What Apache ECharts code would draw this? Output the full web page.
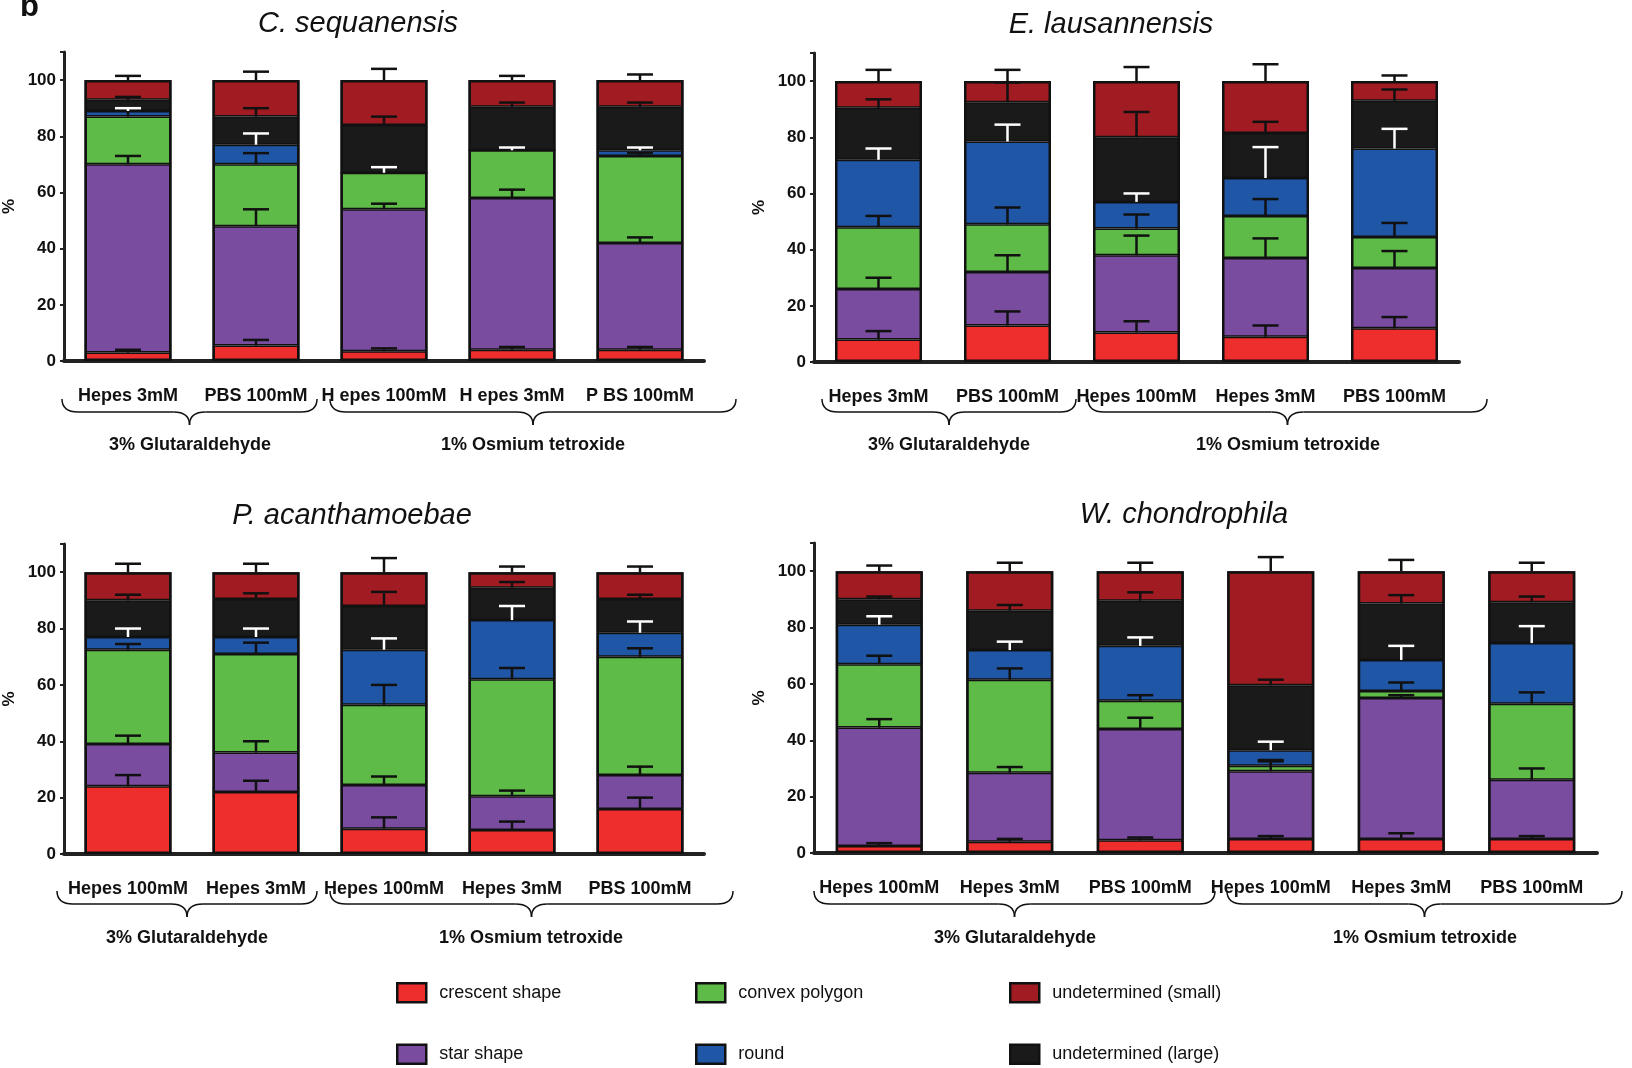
<!DOCTYPE html>
<html><head><meta charset="utf-8">
<script src="https://cdn.jsdelivr.net/npm/echarts@6/dist/echarts.min.js"></script>
<style>html,body{margin:0;background:#fff}#c{width:1632px;height:1068px}</style>
</head><body><div id="c"></div>
<script>
var segNames = ['crescent shape', 'star shape', 'convex polygon', 'round', 'undetermined (large)', 'undetermined (small)'];
var segColors = ['#ee2d2d', '#7a4ca0', '#5fbb47', '#1f56a6', '#1b1a1a', '#a11c22'];

// cumulative tops of each segment, per bar
var seqCats = ['Hepes 3mM', 'PBS 100mM', 'H epes 100mM', 'H epes 3mM', 'P BS 100mM'];
var seqTops = [[3,70,87,89,93,100],[5.5,48,70,77,87,100],[3.5,54,67,67,84,100],[4,58,75,75,90.5,100],[4,42,73,75,90.5,100]];
var seqErr  = [[1,3,3,1,1,1.5],[2,6,4,4,3,3],[1,2,2,2,3,4],[1,3,1,1,1.5,1.5],[1,2,1,1,1.5,2]];

var lauCats = ['Hepes 3mM', 'PBS 100mM', 'Hepes 100mM', 'Hepes 3mM', 'PBS 100mM'];
var lauTops = [[8,26,48,72,90.5,100],[13,32,49,78.5,92.5,100],[10.5,38,47.5,57,80,100],[9,37,52,65.5,81.5,100],[12,33.5,44.5,76,93,100]];
var lauErr  = [[3,4,4,4,3,4],[5,6,6,6,7,4],[4,7,5,3,9,5],[4,7,6,11,4,6],[4,6,5,7,4,2]];

var acaCats = ['Hepes 100mM', 'Hepes 3mM', 'Hepes 100mM', 'Hepes 3mM', 'PBS 100mM'];
var acaTops = [[24,39,72.5,77,90,100],[22,36,71,77,90.5,100],[9,24.5,53,72.5,88,100],[8.5,20.5,62,83,94.5,100],[16,28,70,78.5,90.5,100]];
var acaErr  = [[4,3,2,3,2,3],[4,4,4,3,2,3],[4,3,7,4,5,5],[3,2,4,5,2,2],[4,3,3,4,1.5,2]];

var choCats = ['Hepes 100mM', 'Hepes 3mM', 'PBS 100mM', 'Hepes 100mM', 'Hepes 3mM', 'PBS 100mM'];
var choTops = [[2.5,44.5,67,81,90,100],[4,28.5,61.5,72,86,100],[4.5,44,54,73.5,89.5,100],[5,29,31,36.5,59.5,100],[5,55,57.5,68.5,88.5,100],[5,26,53,74.5,89,100]];
var choErr  = [[1,3,3,3,1,2],[1,2,4,3,2,3],[1,4,2,3,3,3],[1,4,1.5,3,2,5],[2,1,3,5,3,4],[1,4,4,6,2,3]];

var yTicks = [0, 20, 40, 60, 80, 100];

function S(v) { return Math.round(v * 1.04); }

var panels = [
  {title:'C. sequanensis', cats:seqCats, tops:seqTops, err:seqErr, left:57, width:620, top:50, bottom:347},
  {title:'E. lausannensis', cats:lauCats, tops:lauTops, err:lauErr, left:783, width:620, top:51, bottom:348},
  {title:'P. acanthamoebae', cats:acaCats, tops:acaTops, err:acaErr, left:57, width:620, top:523, bottom:821},
  {title:'W. chondrophila', cats:choCats, tops:choTops, err:choErr, left:783, width:753, top:522, bottom:820}
];
var titleX = [339, 1063, 334, 1134];

var grids = [], xAxes = [], yAxes = [], series = [], titles = [];
panels.forEach(function (p, pi) {
  grids.push({left:S(p.left), width:S(p.width), top:S(p.top), height:S(p.bottom) - S(p.top)});
  titles.push({text:p.title, left:S(titleX[pi]), top:S(p.top) - 48, textAlign:'center',
    textStyle:{fontFamily:'Liberation Sans', fontStyle:'italic', fontWeight:'normal', fontSize:29, color:'#111'}});
  xAxes.push({type:'category', gridIndex:pi, data:p.cats, offset:19,
    axisLine:{lineStyle:{color:'#222', width:4}}, axisTick:{show:false},
    axisLabel:{margin:7, color:'#111', fontWeight:'bold', fontSize:18, fontFamily:'Liberation Sans', interval:0}});
  yAxes.push({type:'value', gridIndex:pi, min:0, max:110, interval:20, name:'%', nameLocation:'middle', nameGap:46,
    nameTextStyle:{fontSize:17, fontWeight:'bold', color:'#111'},
    splitLine:{show:false}, axisLine:{show:true, lineStyle:{color:'#222', width:3}},
    axisTick:{show:true, length:4, lineStyle:{width:2}},
    axisLabel:{color:'#111', fontWeight:'bold', fontSize:17, fontFamily:'Liberation Sans',
      formatter:function (v) { return yTicks.indexOf(v) >= 0 ? v : ''; }}});
  segNames.forEach(function (n, si) {
    series.push({type:'bar', name:n, xAxisIndex:pi, yAxisIndex:pi, stack:'p' + pi, barWidth:S(84),
      itemStyle:{color:segColors[si], borderColor:'#111', borderWidth:1.5},
      data:p.tops.map(function (t) { return t[si] - (si ? t[si-1] : 0); })});
  });
  // outline of the whole bar
  series.push({type:'bar', xAxisIndex:pi, yAxisIndex:pi, barGap:'-100%', barWidth:S(84), silent:true, z:3,
    itemStyle:{color:'transparent', borderColor:'#111', borderWidth:2.5},
    data:p.tops.map(function () { return 100; })});
  var ed = [];
  p.tops.forEach(function (t, bi) {
    t.forEach(function (v, si) {
      if (si > 0 && v - t[si-1] <= 0) return;
      var white = v >= t[3] && v < t[4];
      ed.push([bi, v, v + p.err[bi][si], white ? 1 : 0]);
    });
  });
  series.push({type:'custom', xAxisIndex:pi, yAxisIndex:pi, z:5, silent:true, data:ed,
    renderItem:function (params, api) {
      var a = api.coord([api.value(0), api.value(1)]);
      var b = api.coord([api.value(0), api.value(2)]);
      var col = api.value(3) ? '#fff' : '#111';
      var st = {stroke:col, lineWidth:2.5};
      return {type:'group', children:[
        {type:'line', shape:{x1:a[0], y1:a[1], x2:b[0], y2:b[1]}, style:st},
        {type:'line', shape:{x1:b[0]-13, y1:b[1], x2:b[0]+13, y2:b[1]}, style:st}]};
    }});
});

var graphic = [{type:'text', left:20, top:-8, style:{text:'b', font:'bold 31px Liberation Sans', fill:'#111'}}];
function brace(x1, x2, y0) {
  var m = (x1 + x2) / 2, h = 13, y1 = y0 + h, st = {stroke:'#111', lineWidth:1.5, fill:null};
  graphic.push({type:'bezierCurve', shape:{x1:x1, y1:y0, x2:x1+16, y2:y1, cpx1:x1, cpy1:y1}, style:st});
  graphic.push({type:'line', shape:{x1:x1+16, y1:y1, x2:m-16, y2:y1}, style:st});
  graphic.push({type:'bezierCurve', shape:{x1:m-16, y1:y1, x2:m, y2:y1+h, cpx1:m, cpy1:y1}, style:st});
  graphic.push({type:'bezierCurve', shape:{x1:m+16, y1:y1, x2:m, y2:y1+h, cpx1:m, cpy1:y1}, style:st});
  graphic.push({type:'line', shape:{x1:m+16, y1:y1, x2:x2-16, y2:y1}, style:st});
  graphic.push({type:'bezierCurve', shape:{x1:x2, y1:y0, x2:x2-16, y2:y1, cpx1:x2, cpy1:y1}, style:st});
}
var groups = [
  [60, 305, 384, 428], [317, 708, 384, 428],
  [790, 1035, 384, 428], [1046, 1430, 384, 428],
  [55, 305, 857, 902], [317, 705, 857, 902],
  [783, 1168, 857, 902], [1180, 1560, 857, 902]
];
var groupText = ['3% Glutaraldehyde', '1% Osmium tetroxide'];
groups.forEach(function (g, i) {
  brace(S(g[0]), S(g[1]), S(g[2]));
  graphic.push({type:'text', x:S((g[0]+g[1])/2), y:S(g[3]), style:{text:groupText[i % 2], font:'bold 18px Liberation Sans', fill:'#111', align:'center', verticalAlign:'middle'}});
});

var legendStyle = {orient:'vertical', itemWidth:29, itemHeight:19, itemGap:40, icon:'rect', padding:0, height:90,
  textStyle:{fontSize:18, fontFamily:'Liberation Sans', color:'#111', padding:[0,0,0,8]},
  itemStyle:{borderColor:'#111', borderWidth:2.5}};
var legends = [
  Object.assign({left:S(381), top:S(944), data:[segNames[0], segNames[1]]}, legendStyle),
  Object.assign({left:S(668), top:S(944), data:[segNames[2], segNames[3]]}, legendStyle),
  Object.assign({left:S(970), top:S(944), data:[segNames[5], segNames[4]]}, legendStyle)
];

var myChart = echarts.init(document.getElementById('c'));
myChart.setOption({
  animation:false,
  title:titles, grid:grids, xAxis:xAxes, yAxis:yAxes, series:series,
  legend:legends, graphic:graphic
});
</script></body></html>
